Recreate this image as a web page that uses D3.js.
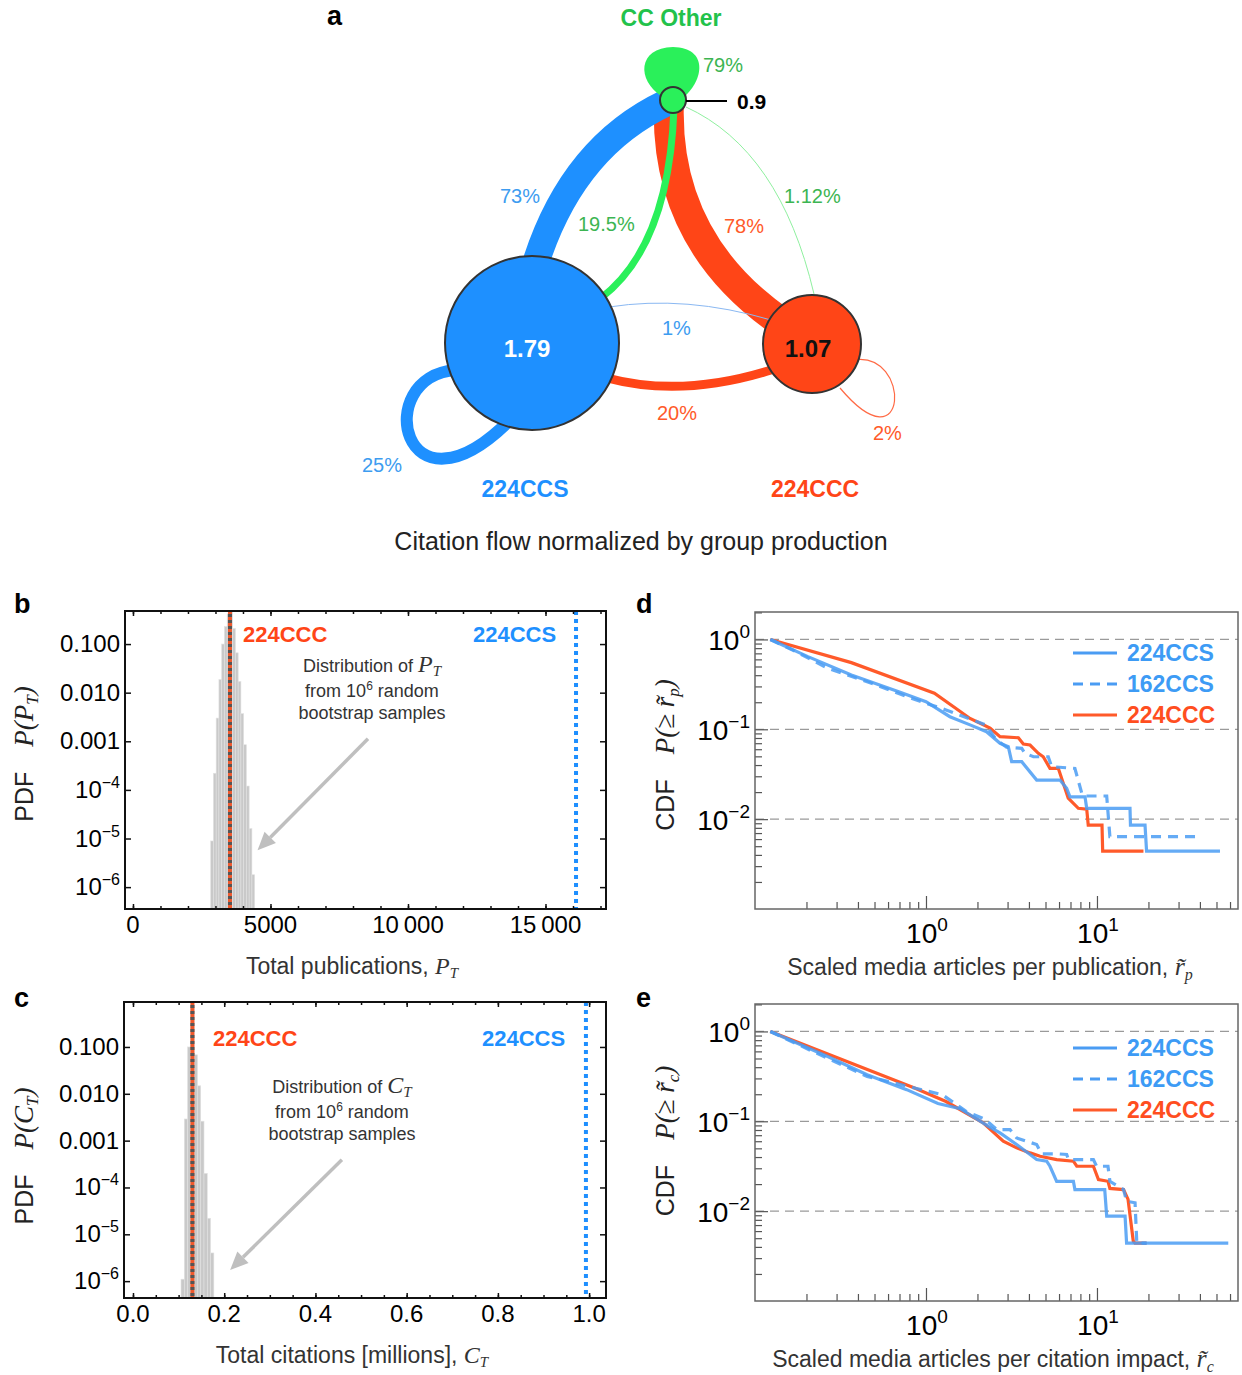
<!DOCTYPE html>
<html>
<head>
<meta charset="utf-8">
<script src="https://d3js.org/d3.v7.min.js"></script>
<style>
  body { margin: 0; background: #fff; }
  svg text { font-family: "Helvetica Neue", Helvetica, Arial, "Liberation Sans", sans-serif; }
</style>
</head>
<body>
<div id="fig"></div>
<script>
// ---------- data ----------
// a: citation flow between groups
const groupNames = ["CC Other", "224CCS", "224CCC"];
const groupValues = ["0.9", "1.79", "1.07"];
const flowText = ["79%", "73%", "19.5%", "78%", "1.12%", "1%", "20%", "2%", "25%"];

// b: bootstrap distribution of total publications
const pubBinCenters = [2875, 2975, 3075, 3175, 3275, 3375, 3475, 3575, 3675, 3775, 3875, 3975, 4075, 4175, 4275, 4375];
const pubPdf = [8.9e-6, 2.2e-4, 3.0e-3, 0.0186, 0.100, 0.229, 0.417, 0.468, 0.209, 0.066, 0.017, 3.7e-3, 8.5e-4, 1.2e-4, 1.6e-5, 1.8e-6];
const pubCCC = 3527, pubCCS = 16110;
const pubTicks = [0, 5000, 10000, 15000];
const pubTickText = ["0", "5000", "10\u2009000", "15\u2009000"];

// c: bootstrap distribution of total citations (millions)
const citBinCenters = [0.1089, 0.1161, 0.1233, 0.1305, 0.1377, 0.1449, 0.1521, 0.1593, 0.1665, 0.1737];
const citPdf = [1.1e-6, 2.9e-3, 0.100, 0.71, 0.068, 0.0148, 2.6e-3, 2.0e-4, 2.2e-5, 4.0e-6];
const citCCC = 0.1303, citCCS = 0.993;
const citTicks = [0, 0.2, 0.4, 0.6, 0.8, 1.0];
const citTickText = ["0.0", "0.2", "0.4", "0.6", "0.8", "1.0"];

const pdfTicks = [1e-6, 1e-5, 1e-4, 1e-3, 1e-2, 1e-1];
const pdfTickText = [["10", "\u22126"], ["10", "\u22125"], ["10", "\u22124"], ["0.001"], ["0.010"], ["0.100"]];

// d: CCDF of scaled media articles per publication
const dCcsR = [0.123, 0.204, 0.366, 0.693, 1.0, 1.38, 1.81, 2.26, 2.71, 3.03, 3.17, 3.63, 4.44, 6.08, 6.65, 6.95, 8.51, 8.71, 15.6, 15.7, 19.1, 19.5, 52.4];
const dCcsP = [1.0, 0.644, 0.403, 0.262, 0.203, 0.138, 0.112, 0.094, 0.0698, 0.064, 0.0436, 0.0436, 0.0272, 0.0272, 0.022, 0.0177, 0.0177, 0.0132, 0.0132, 0.0086, 0.0086, 0.0044, 0.0044];
const d162R = [0.123, 0.174, 0.266, 0.453, 0.771, 1.31, 2.23, 2.59, 2.96, 3.63, 3.79, 4.25, 5.19, 5.43, 7.43, 8.15, 8.32, 11.4, 11.9, 40.0];
const d162P = [1.0, 0.731, 0.478, 0.339, 0.231, 0.164, 0.112, 0.076, 0.0631, 0.0614, 0.0541, 0.0495, 0.0495, 0.0384, 0.0367, 0.0194, 0.0181, 0.0181, 0.0064, 0.0064];
const dCccR = [0.123, 0.366, 1.12, 1.81, 2.37, 2.71, 3.47, 3.71, 4.06, 4.54, 4.85, 5.31, 5.94, 6.79, 7.78, 8.71, 8.89, 10.7, 10.8, 18.7];
const dCccP = [1.0, 0.552, 0.252, 0.132, 0.103, 0.0828, 0.0805, 0.0686, 0.0668, 0.0541, 0.0495, 0.0368, 0.0368, 0.0171, 0.0132, 0.0129, 0.0086, 0.0086, 0.0044, 0.0044];

// e: CCDF of scaled media articles per citation impact
const eCcsR = [0.123, 0.266, 0.453, 0.771, 1.175, 1.585, 2.32, 2.71, 3.39, 4.06, 4.44, 5.08, 5.31, 5.81, 7.28, 7.43, 11.1, 11.4, 14.6, 14.9, 58.6];
const eCcsP = [1.0, 0.527, 0.330, 0.225, 0.158, 0.138, 0.088, 0.0743, 0.0551, 0.0427, 0.0375, 0.036, 0.0316, 0.0215, 0.0215, 0.0174, 0.0174, 0.0088, 0.0088, 0.0044, 0.0044];
const e162R = [0.123, 0.266, 0.453, 0.857, 1.245, 1.714, 2.23, 2.59, 3.10, 3.39, 4.44, 4.74, 5.81, 6.65, 6.81, 9.53, 9.95, 11.6, 11.9, 14.3, 14.9, 16.7, 17.1, 19.5];
const e162P = [1.0, 0.501, 0.316, 0.235, 0.198, 0.129, 0.1045, 0.0809, 0.0809, 0.0653, 0.0551, 0.0435, 0.0435, 0.0427, 0.0375, 0.0375, 0.0316, 0.0316, 0.0215, 0.0174, 0.0129, 0.0124, 0.0044, 0.0044];
const eCccR = [0.123, 0.857, 1.31, 2.16, 2.83, 3.39, 4.06, 4.65, 5.81, 7.28, 7.62, 9.53, 10.2, 11.6, 11.9, 14.3, 15.2, 16.3, 16.7, 19.5];
const eCccP = [1.0, 0.235, 0.166, 0.096, 0.06, 0.0506, 0.0445, 0.0408, 0.0375, 0.036, 0.0316, 0.0316, 0.0225, 0.0215, 0.0179, 0.0174, 0.0135, 0.00465, 0.0044, 0.0044];

const cdfLegend = ["224CCS", "162CCS", "224CCC"];
const cdfMajorY = [1, 0.1, 0.01];

// ---------- styles ----------
const SERIF = "'Liberation Serif', 'DejaVu Serif', 'Times New Roman', serif";
const BLUE = "#1e90ff", RED = "#ff4517", GREEN = "#2af05a";
const BLUE_L = "#4a9cf3", RED_L = "#ff5a2a";

const svg = d3.select("#fig").append("svg")
  .attr("width", 1242).attr("height", 1375)
  .style("background", "#fff");

function parts(sel, list) {
  list.forEach(p => {
    const t = sel.append("tspan").text(p.t);
    if (p.serif) t.attr("font-family", SERIF).attr("font-style", "italic");
    if (p.size) t.attr("font-size", p.size);
    if (p.dy) t.attr("dy", p.dy);
  });
  return sel;
}

function panelLetter(txt, x, y) {
  svg.append("text").attr("x", x).attr("y", y).attr("font-size", 27)
    .attr("font-weight", "bold").attr("fill", "#000").text(txt);
}

// ---------- panel a ----------
panelLetter("a", 327, 25);
const ga = svg.append("g");
const nodes = [
  {name: groupNames[0], val: groupValues[0], cx: 673, cy: 100, r: 13},
  {name: groupNames[1], val: groupValues[1], cx: 532, cy: 343, r: 87},
  {name: groupNames[2], val: groupValues[2], cx: 812, cy: 344, r: 49}
];
// drawn in order: red under blue
const edges = [
  {d: "M669,100 Q663,240 781,322", w: 30, c: RED},
  {d: "M536,262 Q573,147 666,103", w: 27, c: BLUE},
  {d: "M674,108 Q669,246 601,298", w: 7, c: GREEN},
  {d: "M686,107 Q780,150 814,294", w: 1, c: "#8ff09f"},
  {d: "M609,307 Q686,295 771,320", w: 1, c: "#8ab8f2"},
  {d: "M607,378 Q682,398 771,370", w: 9, c: RED},
  {d: "M456,370 C370,376 402,528 510,420", w: 12, c: BLUE},
  {d: "M853,360 C912,350 909,470 840,388", w: 1.2, c: "#ff6a45"}
];
ga.selectAll("path.edge").data(edges).join("path")
  .attr("d", d => d.d).attr("fill", "none")
  .attr("stroke", d => d.c).attr("stroke-width", d => d.w);
ga.append("path")
  .attr("d", "M661,96 C637,80 637,48 673,47 C709,48 703,80 685,96 Z")
  .attr("fill", GREEN);
ga.selectAll("circle").data(nodes).join("circle")
  .attr("cx", d => d.cx).attr("cy", d => d.cy).attr("r", d => d.r)
  .attr("fill", (d, i) => [GREEN, BLUE, RED][i])
  .attr("stroke", "#333").attr("stroke-width", 2);
ga.append("line").attr("x1", 686).attr("x2", 727).attr("y1", 101).attr("y2", 101)
  .attr("stroke", "#000").attr("stroke-width", 2);
ga.append("text").attr("x", 737).attr("y", 109).attr("font-size", 21)
  .attr("font-weight", "bold").text(nodes[0].val);
ga.append("text").attr("x", 527).attr("y", 357).attr("text-anchor", "middle")
  .attr("font-size", 24).attr("font-weight", "bold").attr("fill", "#fff").text(nodes[1].val);
ga.append("text").attr("x", 808).attr("y", 357).attr("text-anchor", "middle")
  .attr("font-size", 24).attr("font-weight", "bold").attr("fill", "#111").text(nodes[2].val);
ga.append("text").attr("x", 671).attr("y", 26).attr("text-anchor", "middle")
  .attr("font-size", 23).attr("font-weight", "bold").attr("fill", "#22c24b").text(nodes[0].name);
ga.append("text").attr("x", 525).attr("y", 497).attr("text-anchor", "middle")
  .attr("font-size", 23).attr("font-weight", "bold").attr("fill", BLUE).text(nodes[1].name);
ga.append("text").attr("x", 815).attr("y", 497).attr("text-anchor", "middle")
  .attr("font-size", 23).attr("font-weight", "bold").attr("fill", RED).text(nodes[2].name);
const flowPos = [
  [703, 72, "#3cb552"], [500, 203, "#3d9cf0"], [578, 231, "#3cb552"], [724, 233, "#ff5a2a"],
  [784, 203, "#3cb552"], [662, 335, "#3d9cf0"], [657, 420, "#ff5a2a"], [873, 440, "#ff5a2a"],
  [362, 472, "#3d9cf0"]
];
ga.selectAll("text.flow").data(flowText).join("text").attr("class", "flow")
  .attr("x", (d, i) => flowPos[i][0]).attr("y", (d, i) => flowPos[i][1])
  .attr("font-size", 20).attr("font-weight", 300)
  .attr("fill", (d, i) => flowPos[i][2]).text(d => d);
ga.append("text").attr("x", 641).attr("y", 550).attr("text-anchor", "middle")
  .attr("font-size", 25).attr("fill", "#222")
  .text("Citation flow normalized by group production");

// ---------- panels b, c ----------
function histPanel(o) {
  const x = d3.scaleLinear().domain(o.xDomain).range([o.left, o.right]);
  const y = d3.scaleLog().domain(o.yDomain).range([o.bottom, o.top]);
  const g = svg.append("g");
  const bins = o.centers.map((c, i) => ({c: c, p: o.pdf[i]}));
  g.selectAll("rect.bar").data(bins).join("rect")
    .attr("x", d => x(d.c - o.bw / 2))
    .attr("width", d => x(d.c + o.bw / 2) - x(d.c - o.bw / 2))
    .attr("y", d => y(d.p))
    .attr("height", d => o.bottom - y(d.p))
    .attr("fill", "#c9c9c9").attr("stroke", "#e2e2e2").attr("stroke-width", 0.6);

  // group values
  g.append("line").attr("x1", x(o.ccc)).attr("x2", x(o.ccc)).attr("y1", o.top).attr("y2", o.bottom)
    .attr("stroke", "#f0582c").attr("stroke-width", 4);
  g.append("line").attr("x1", x(o.ccc)).attr("x2", x(o.ccc)).attr("y1", o.top + 3).attr("y2", o.bottom)
    .attr("stroke", "#555").attr("stroke-width", 4).attr("stroke-dasharray", "3,3");
  g.append("line").attr("x1", x(o.ccs)).attr("x2", x(o.ccs)).attr("y1", o.top).attr("y2", o.bottom)
    .attr("stroke", "#1e8fff").attr("stroke-width", 4).attr("stroke-dasharray", "4,4");

  // frame and ticks
  g.append("rect").attr("x", o.left).attr("y", o.top)
    .attr("width", o.right - o.left).attr("height", o.bottom - o.top)
    .attr("fill", "none").attr("stroke", "#111").attr("stroke-width", 2);
  const noDomain = s => s.select(".domain").remove();
  g.append("g").attr("transform", `translate(0,${o.bottom})`)
    .call(d3.axisBottom(x).tickValues(o.minor).tickSize(-3).tickFormat("")).call(noDomain);
  g.append("g").attr("transform", `translate(0,${o.bottom})`)
    .call(d3.axisBottom(x).tickValues(o.ticks).tickSize(-5).tickFormat("")).call(noDomain);
  g.append("g").attr("transform", `translate(0,${o.top})`)
    .call(d3.axisTop(x).tickValues(o.minor).tickSize(-3).tickFormat("")).call(noDomain);
  g.append("g").attr("transform", `translate(0,${o.top})`)
    .call(d3.axisTop(x).tickValues(o.ticks).tickSize(-5).tickFormat("")).call(noDomain);
  g.append("g").attr("transform", `translate(${o.left},0)`)
    .call(d3.axisLeft(y).tickValues(pdfTicks).tickSize(-6).tickFormat("")).call(noDomain);
  g.append("g").attr("transform", `translate(${o.right},0)`)
    .call(d3.axisRight(y).tickValues(pdfTicks).tickSize(-6).tickFormat("")).call(noDomain);
  g.selectAll(".tick line").attr("stroke", "#111").attr("stroke-width", 1.5);

  // tick labels
  g.selectAll("text.xl").data(o.ticks).join("text").attr("class", "xl")
    .attr("x", d => x(d)).attr("y", o.bottom + 24).attr("text-anchor", "middle")
    .attr("font-size", 24).attr("fill", "#000").text((d, i) => o.tickText[i]);
  g.selectAll("text.yl").data(pdfTicks).join("text").attr("class", "yl")
    .attr("x", o.left - 5).attr("y", d => y(d) + 8).attr("text-anchor", "end")
    .attr("font-size", 24).attr("fill", "#000")
    .each(function(d, i) {
      const lab = pdfTickText[i];
      const s = d3.select(this);
      s.append("tspan").text(lab[0]);
      if (lab[1]) s.append("tspan").attr("dy", -10).attr("font-size", 16).text(lab[1]);
    });

  // group labels
  g.append("text").attr("x", o.cccLab).attr("y", o.top + o.labDy).attr("font-size", 22)
    .attr("font-weight", "bold").attr("fill", RED).text("224CCC");
  g.append("text").attr("x", o.ccsLab).attr("y", o.top + o.labDy).attr("font-size", 22)
    .attr("font-weight", "bold").attr("fill", BLUE).text("224CCS");

  // annotation
  const ax = o.noteX, ny = o.top + o.noteDy;
  parts(g.append("text").attr("x", ax).attr("y", ny).attr("text-anchor", "middle")
    .attr("font-size", 18).attr("fill", "#333"),
    [{t: "Distribution of "}, {t: o.sym, serif: true, size: 24}, {t: "T", serif: true, size: 15, dy: 4}]);
  parts(g.append("text").attr("x", ax).attr("y", ny + 25).attr("text-anchor", "middle")
    .attr("font-size", 18).attr("fill", "#333"),
    [{t: "from 10"}, {t: "6", size: 12, dy: -7}, {t: " random", dy: 7}]);
  g.append("text").attr("x", ax).attr("y", ny + 47).attr("text-anchor", "middle")
    .attr("font-size", 18).attr("fill", "#333").text("bootstrap samples");

  // arrow
  const sx = x(o.arrow[0]), sy = y(o.arrow[1]), tx = x(o.arrow[2]), ty = y(o.arrow[3]);
  const len = Math.hypot(tx - sx, ty - sy), ux = (tx - sx) / len, uy = (ty - sy) / len;
  const bx = tx - ux * 18, by = ty - uy * 18;
  g.append("line").attr("x1", sx).attr("y1", sy).attr("x2", bx).attr("y2", by)
    .attr("stroke", "#bfbfbf").attr("stroke-width", 3.5);
  g.append("polygon")
    .attr("points", [[tx, ty], [bx - uy * 8, by + ux * 8], [bx + uy * 8, by - ux * 8]].join(" "))
    .attr("fill", "#bfbfbf");

  // axis titles
  parts(g.append("text").attr("x", o.titleX).attr("y", o.bottom + 65).attr("text-anchor", "middle")
    .attr("font-size", 23).attr("fill", "#333"),
    [{t: o.title}, {t: o.sym, serif: true, size: 24}, {t: "T", serif: true, size: 15, dy: 4}]);
  parts(g.append("text").attr("transform", `translate(33,${o.yTitle}) rotate(-90)`)
    .attr("text-anchor", "middle").attr("font-size", 25).attr("fill", "#222"),
    [{t: "PDF\u2003"}, {t: "P(" + o.sym, serif: true, size: 27},
     {t: "T", serif: true, size: 17, dy: 5}, {t: ")", serif: true, size: 27, dy: -5}]);
}

panelLetter("b", 14, 613);
histPanel({
  left: 125, right: 606, top: 611, bottom: 909,
  xDomain: [-290, 17200], yDomain: [Math.pow(10, -6.45), Math.pow(10, -0.32)],
  centers: pubBinCenters, pdf: pubPdf, bw: 100, ccc: pubCCC, ccs: pubCCS,
  ticks: pubTicks, tickText: pubTickText, minor: d3.range(0, 17001, 1000),
  cccLab: 243, ccsLab: 473, labDy: 31, noteX: 372, noteDy: 61, sym: "P",
  arrow: [8545, Math.pow(10, -2.95), 4530, Math.pow(10, -5.24)],
  title: "Total publications, ", titleX: 352, yTitle: 754
});

panelLetter("c", 14, 1007);
histPanel({
  left: 124, right: 606, top: 1002, bottom: 1298,
  xDomain: [-0.0197, 1.037], yDomain: [Math.pow(10, -6.36), Math.pow(10, -0.04)],
  centers: citBinCenters, pdf: citPdf, bw: 0.0072, ccc: citCCC, ccs: citCCS,
  ticks: citTicks, tickText: citTickText, minor: d3.range(0, 1.001, 0.05),
  cccLab: 213, ccsLab: 482, labDy: 44, noteX: 342, noteDy: 91, sym: "C",
  arrow: [0.458, Math.pow(10, -3.41), 0.213, Math.pow(10, -5.76)],
  title: "Total citations [millions], ", titleX: 352, yTitle: 1156
});

// ---------- panels d, e ----------
function cdfPanel(o) {
  const left = 755, right = 1238;
  const x = d3.scaleLog().domain([0.1, 66.8]).range([left, right]);
  const y = d3.scaleLog().domain([0.001, 2.02]).range([o.bottom, o.top]);
  const g = svg.append("g");
  const clipId = "clip" + o.key;
  g.append("clipPath").attr("id", clipId).append("rect")
    .attr("x", left).attr("y", o.top).attr("width", right - left).attr("height", o.bottom - o.top);

  g.selectAll("line.grid").data(cdfMajorY).join("line")
    .attr("x1", left).attr("x2", right).attr("y1", d => y(d)).attr("y2", d => y(d))
    .attr("stroke", "#9a9a9a").attr("stroke-width", 1.3).attr("stroke-dasharray", "9,6");

  const noDomain = s => s.select(".domain").remove();
  const minorX = [0.2, 0.3, 0.4, 0.5, 0.6, 0.7, 0.8, 0.9, 2, 3, 4, 5, 6, 7, 8, 9, 20, 30, 40, 50, 60];
  const minorY = [0.002, 0.003, 0.004, 0.005, 0.006, 0.007, 0.008, 0.009,
                  0.02, 0.03, 0.04, 0.05, 0.06, 0.07, 0.08, 0.09,
                  0.2, 0.3, 0.4, 0.5, 0.6, 0.7, 0.8, 0.9, 2];
  g.append("g").attr("transform", `translate(0,${o.bottom})`)
    .call(d3.axisBottom(x).tickValues(minorX).tickSize(-7).tickFormat("")).call(noDomain);
  g.append("g").attr("transform", `translate(0,${o.bottom})`)
    .call(d3.axisBottom(x).tickValues([1, 10]).tickSize(-13).tickFormat("")).call(noDomain);
  g.append("g").attr("transform", `translate(${left},0)`)
    .call(d3.axisLeft(y).tickValues(minorY).tickSize(-7).tickFormat("")).call(noDomain);
  g.append("g").attr("transform", `translate(${left},0)`)
    .call(d3.axisLeft(y).tickValues(cdfMajorY).tickSize(-13).tickFormat("")).call(noDomain);
  g.selectAll(".tick line").attr("stroke", "#555").attr("stroke-width", 1.2);

  const line = d3.line().x(d => x(d[0])).y(d => y(d[1]));
  const series = [
    {r: o.ccc[0], p: o.ccc[1], c: RED_L, dash: null, op: 1},
    {r: o.ccs[0], p: o.ccs[1], c: BLUE_L, dash: null, op: 0.85},
    {r: o.s162[0], p: o.s162[1], c: BLUE_L, dash: "10,7", op: 0.85}
  ];
  g.append("g").attr("clip-path", `url(#${clipId})`)
    .selectAll("path").data(series).join("path")
    .attr("d", s => line(s.r.map((v, i) => [v, s.p[i]])))
    .attr("fill", "none").attr("stroke", s => s.c).attr("stroke-width", 3.2)
    .attr("stroke-opacity", s => s.op).attr("stroke-dasharray", s => s.dash);

  g.append("rect").attr("x", left).attr("y", o.top)
    .attr("width", right - left).attr("height", o.bottom - o.top)
    .attr("fill", "none").attr("stroke", "#666").attr("stroke-width", 1.5);

  // legend
  const legStyle = [{c: BLUE_L, dash: null, t: "#3d9bf5"}, {c: BLUE_L, dash: "10,7", t: "#3d9bf5"}, {c: RED_L, dash: null, t: "#ff4e1f"}];
  cdfLegend.forEach((name, i) => {
    const ly = o.legY + i * 31;
    g.append("line").attr("x1", 1073).attr("x2", 1117).attr("y1", ly).attr("y2", ly)
      .attr("stroke", legStyle[i].c).attr("stroke-width", 3.2).attr("stroke-dasharray", legStyle[i].dash);
    g.append("text").attr("x", 1127).attr("y", ly + 8).attr("font-size", 23)
      .attr("font-weight", "bold").attr("fill", legStyle[i].t).text(name);
  });

  // tick labels
  const yExp = ["0", "\u22121", "\u22122"];
  g.selectAll("text.yl").data(cdfMajorY).join("text").attr("class", "yl")
    .attr("x", 750).attr("y", d => y(d) + 11).attr("text-anchor", "end")
    .attr("font-size", 28).attr("fill", "#000")
    .each(function(d, i) {
      const s = d3.select(this);
      s.append("tspan").text("10");
      s.append("tspan").attr("dy", -12).attr("font-size", 19).text(yExp[i]);
    });
  g.selectAll("text.xl").data([1, 10]).join("text").attr("class", "xl")
    .attr("x", d => x(d) + 1).attr("y", o.bottom + 34).attr("text-anchor", "middle")
    .attr("font-size", 28).attr("fill", "#000")
    .each(function(d, i) {
      const s = d3.select(this);
      s.append("tspan").text("10");
      s.append("tspan").attr("dy", -12).attr("font-size", 19).text(String(i));
    });

  // axis titles
  parts(g.append("text").attr("x", o.titleX).attr("y", o.bottom + 66).attr("text-anchor", "middle")
    .attr("font-size", 23).attr("fill", "#333"),
    [{t: o.title}, {t: "r\u0303", serif: true, size: 26}, {t: o.sub, serif: true, size: 16, dy: 5}]);
  parts(g.append("text").attr("transform", `translate(674,${o.yTitle}) rotate(-90)`)
    .attr("text-anchor", "middle").attr("font-size", 25).attr("fill", "#222"),
    [{t: "CDF\u2003"}, {t: "P(\u2265 r\u0303", serif: true, size: 27},
     {t: o.sub, serif: true, size: 17, dy: 5}, {t: ")", serif: true, size: 27, dy: -5}]);
}

panelLetter("d", 636, 613);
cdfPanel({
  key: "d", top: 612, bottom: 909, legY: 653,
  ccs: [dCcsR, dCcsP], s162: [d162R, d162P], ccc: [dCccR, dCccP],
  title: "Scaled media articles per publication, ", sub: "p", titleX: 990, yTitle: 755
});

panelLetter("e", 636, 1007);
cdfPanel({
  key: "e", top: 1004, bottom: 1301, legY: 1048,
  ccs: [eCcsR, eCcsP], s162: [e162R, e162P], ccc: [eCccR, eCccP],
  title: "Scaled media articles per citation impact, ", sub: "c", titleX: 993, yTitle: 1141
});
</script>
</body>
</html>
